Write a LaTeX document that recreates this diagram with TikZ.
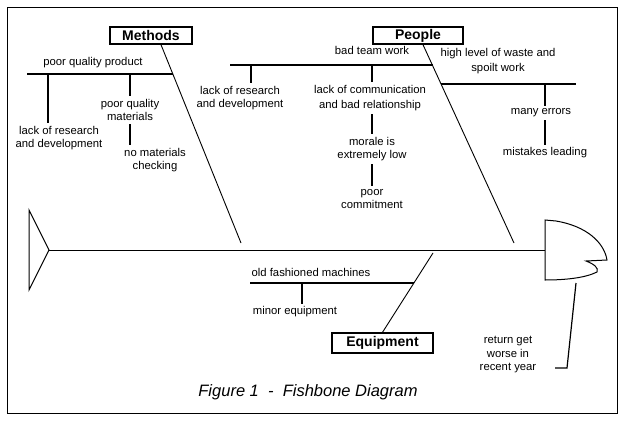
\documentclass[tikz,border=0pt]{standalone}
\usepackage{fontspec}
\setmainfont{Liberation Sans}
\usetikzlibrary{calc}
\newcommand{\twig}[3]{\draw[twig] (#1,0 |- #2) -- (#1,0 |- #3);}

\begin{document}
\begin{tikzpicture}[x=1pt,y=-1pt,
    bone/.style={line width=0.9pt},
    branch/.style={line width=1.2pt},
    twig/.style={line width=1.8pt},
    lbl/.style={font=\fontsize{11.3}{13.5}\selectfont, align=center, inner sep=3pt},
    box/.style={draw, line width=1.4pt, font=\bfseries\fontsize{14}{16}\selectfont, inner sep=0pt, minimum height=17pt}]
    \useasboundingbox (0,0) rectangle (634,436);
    \draw[line width=1pt] (7,8) rectangle (617,413);

    %fish
    \coordinate (tailtip) at (49,250);
    \coordinate (headbase) at (545,250);
    \draw[line width=1pt] (29,210) -- (tailtip) -- (29,290) -- cycle;
    \draw[bone] (tailtip) -- (headbase);
    \draw[line width=1pt] (545,220) -- (556,221) .. controls (586,226) and (604,242) .. (607,260) -- (586,261) .. controls (594,264) and (599,268) .. (597,272) .. controls (585,278) and (565,280) .. (545,280) -- cycle;

    %methods
    \node[box, minimum width=82pt] (methods) at (151,35.5) {Methods};
    \coordinate (mend) at (241,243);
    \draw[bone] ([xshift=10pt]methods.south) -- (mend);
    \coordinate (m0) at (27,74);
    \coordinate (m1) at (173,74);
    \draw[branch] (m0) -- (m1);
    \node[lbl] (pqp) at (93,63) {poor quality product};
    \node[lbl] (mlrd) at (59,138) {lack of research\\and development};
    \node[lbl] (pqm) at (130,110) {poor quality\\materials};
    \node[lbl] (nmc) at (155,160) {no materials\\checking};
    \twig{48}{m0}{mlrd.north}
    \twig{130}{m0}{pqm.north}
    \twig{130}{pqm.south}{nmc.north}

    %people
    \node[box, minimum width=90pt] (people) at (418,35.5) {People};
    \coordinate (pend) at (514,243);
    \draw[bone] ([xshift=5pt]people.south) -- (pend);
    \coordinate (p0) at (230,65);
    \coordinate (p1) at (433,65);
    \draw[branch] (p0) -- (p1);
    \coordinate (p2) at (441,84);
    \coordinate (p3) at (576,84);
    \draw[branch] (p2) -- (p3);
    \node[lbl] (btw) at (372,50) {bad team work};
    \node[lbl] (plrd) at (240,98) {lack of research\\and development};
    \twig{251}{p0}{plrd.north}
    \node[lbl] (lcbr) at (370,98) {lack of communication\\[2pt]and bad relationship};
    \twig{372}{p0}{lcbr.north}
    \node[lbl] (mel) at (372,149) {morale is\\extremely low};
    \twig{372}{lcbr.south}{mel.north}
    \node[lbl] (pc) at (372,199) {poor\\commitment};
    \twig{372}{mel.south}{pc.north}
    \node[lbl] (hlw) at (498,61) {high level of waste and\\[2pt]spoilt work};
    \node[lbl] (me) at (541,113) {many errors};
    \twig{545}{p2}{me.north}
    \node[lbl] (ml) at (545,153) {mistakes leading};
    \twig{545}{me.south}{ml.north}

    %equipment
    \node[box, minimum width=101pt, minimum height=20pt] (equip) at (382.5,343) {Equipment};
    \coordinate (etop) at (433,253);
    \draw[bone] (equip.north) -- (etop);
    \coordinate (e0) at (250,283);
    \coordinate (e1) at (414,283);
    \draw[branch] (e0) -- (e1);
    \node[lbl] (ofm) at (311,272) {old fashioned machines};
    \node[lbl] (meq) at (295,312) {minor equipment};
    \twig{302}{e0}{meq.north}

    %result
    \node[lbl] (ret) at (508,355) {return get\\worse in\\recent year};
    \coordinate (r0) at (576,283);
    \coordinate (r1) at (567,368);
    \draw[line width=1.2pt] (r0) -- (r1) -- ([xshift=-12pt]r1);

    %caption
    \node[font=\itshape\fontsize{16.5}{18}\selectfont] (cap) at (308,392) {Figure 1~~-~~Fishbone Diagram};
\end{tikzpicture}
\end{document}
